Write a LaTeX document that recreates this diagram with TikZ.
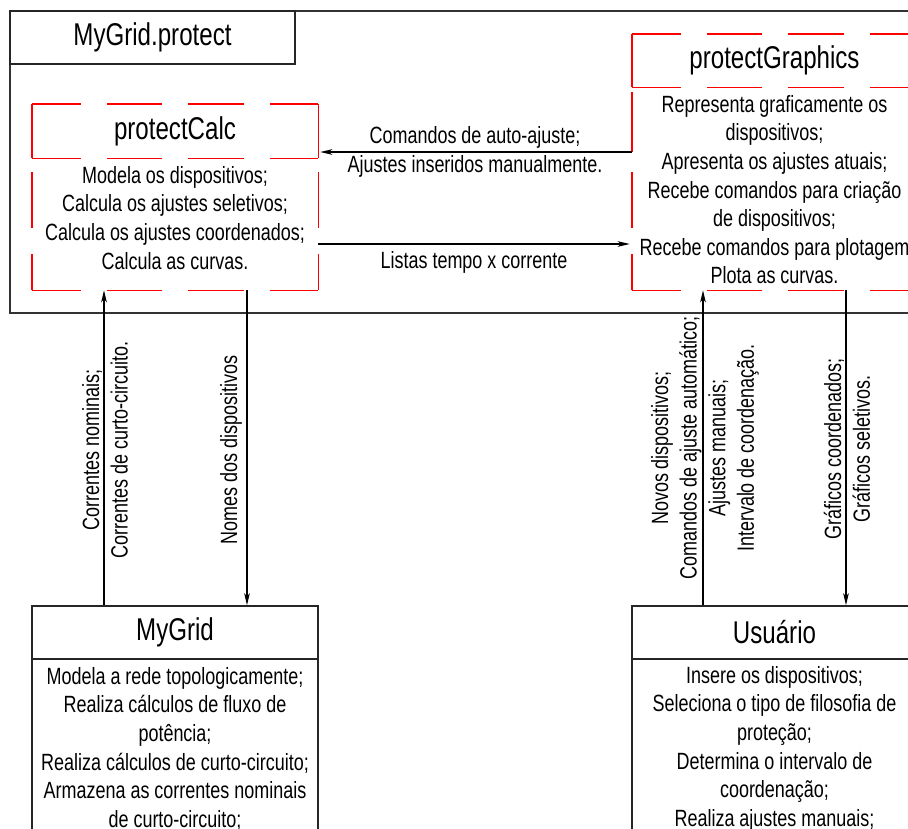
\documentclass[tikz,border=0pt]{standalone}
\usepackage{fontspec}
\setmainfont[FakeStretch=0.765]{Liberation Sans}
\usetikzlibrary{arrows.meta}
\begin{document}
\begin{tikzpicture}[x=1pt,y=-1pt,
  frame/.style={draw=black!80, line width=1.5pt},
  classbox/.style={rectangle, draw=black!85, line width=1.3pt, inner sep=0pt},
  ghost/.style={rectangle, inner sep=0pt},
  ttl/.style={font=\fontsize{31.5}{36}\selectfont},
  txt/.style={font=\fontsize{23.5}{28.6}\selectfont, align=center, inner sep=0pt},
  hdash/.style={draw=red, line width=1.4pt,
    dash pattern=on 49pt off 26pt on 55pt off 26pt on 56pt off 26pt on 60pt off 10pt},
  vdash/.style={draw=red, line width=1.4pt,
    dash pattern=on 36pt off 26pt on 56pt off 20pt on 60pt off 40pt},
  redsolid/.style={draw=red, line width=1.4pt},
  arr/.style={draw=black, line width=1.7pt, -{Stealth[length=12pt,width=5.5pt,inset=3pt]}}
]
\useasboundingbox (0,0) rectangle (908,828);
\clip (0,0) rectangle (908,828);

% package frame
\draw[frame] (10,11) rectangle (940,313);
\node[classbox, ttl, minimum width=285pt, minimum height=53pt] (mgp) at (152.5,37.5) {MyGrid.protect};

% protectCalc
\node[ghost, ttl, minimum width=286pt, minimum height=54pt] (pcH) at (175,131) {protectCalc};
\node[ghost, minimum width=286pt, minimum height=132pt] (pcB) at (175,224) {};
\node[txt, anchor=north] (pcT) at (175,166) {Modela os dispositivos;\\Calcula os ajustes seletivos;\\Calcula os ajustes coordenados;\\Calcula as curvas.};
\draw[hdash] (pcH.north west) -- (pcH.north east);
\draw[hdash] (pcH.south west) -- (pcH.south east);
\draw[hdash] (pcB.south west) -- (pcB.south east);
\draw[redsolid] (pcH.north west) -- (pcH.south west) (pcH.north east) -- (pcH.south east);
\draw[vdash] (pcB.south west) -- (pcB.north west);
\draw[vdash] (pcB.south east) -- (pcB.north east);

% protectGraphics
\node[ghost, ttl, minimum width=285pt, minimum height=53pt] (pgH) at (774.5,60.5) {protectGraphics};
\node[ghost, minimum width=285pt, minimum height=203pt] (pgB) at (774.5,188.5) {};
\node[txt, anchor=north] (pgT) at (774.5,95) {Representa graficamente os\\dispositivos;\\Apresenta os ajustes atuais;\\Recebe comandos para criação\\de dispositivos;\\Recebe comandos para plotagem\\Plota as curvas.};
\draw[hdash] (pgH.north west) -- (pgH.north east);
\draw[hdash] (pgH.south west) -- (pgH.south east);
\draw[hdash] (pgB.south west) -- (pgB.south east);
\draw[redsolid] (pgH.north west) -- (pgH.south west) (pgH.north east) -- (pgH.south east);
\draw[vdash] (pgB.south west) -- (pgB.north west);
\draw[vdash] (pgB.south east) -- (pgB.north east);

% MyGrid
\node[classbox, ttl, minimum width=286pt, minimum height=53pt] (mgH) at (175,632.5) {MyGrid};
\node[classbox, minimum width=286pt, minimum height=200pt] (mgB) at (175,759) {};
\node[txt, anchor=north] (mgT) at (175,667) {Modela a rede topologicamente;\\Realiza cálculos de fluxo de\\potência;\\Realiza cálculos de curto-circuito;\\Armazena as correntes nominais\\de curto-circuito;};

% Usuario
\node[classbox, ttl, minimum width=285pt, minimum height=53pt] (usH) at (774.5,632.5) {Usuário};
\node[classbox, minimum width=285pt, minimum height=200pt] (usB) at (774.5,759) {};
\node[txt, anchor=north] (usT) at (774.5,666) {Insere os dispositivos;\\Seleciona o tipo de filosofia de\\proteção;\\Determina o intervalo de\\coordenação;\\Realiza ajustes manuais;};

% horizontal messages
\node[txt] (lblCA) at (475,152) {Comandos de auto-ajuste;\\Ajustes inseridos manualmente.};
\node[txt] (lblLT) at (474,262) {Listas tempo x corrente};
\coordinate (yLT) at (474,244);
\draw[arr, shorten >=2pt] (pgB.west |- lblCA) -- (pcH.east |- lblCA);
\draw[arr, shorten >=2pt] (pcB.east |- yLT) -- (pgB.west |- yLT);

% vertical messages
\coordinate (xA) at (104,450);
\coordinate (xB) at (247,450);
\coordinate (xC) at (703,450);
\coordinate (xD) at (846,450);
\node[txt, rotate=90] (lblCN) at (105,450) {Correntes nominais;\\Correntes de curto-circuito.};
\node[txt, rotate=90] (lblND) at (231,450) {Nomes dos dispositivos};
\node[txt, rotate=90] (lblND2) at (705,448) {Novos dispositivos;\\Comandos de ajuste automático;\\Ajustes manuais;\\Intervalo de coordenação.};
\node[txt, rotate=90] (lblGC) at (847,449) {Gráficos coordenados;\\Gráficos seletivos.};
\draw[arr] (mgH.north -| xA) -- (pcB.south -| xA);
\draw[arr] (pcB.south -| xB) -- (mgH.north -| xB);
\draw[arr] (usH.north -| xC) -- (pgB.south -| xC);
\draw[arr] (pgB.south -| xD) -- (usH.north -| xD);
\end{tikzpicture}
\end{document}
